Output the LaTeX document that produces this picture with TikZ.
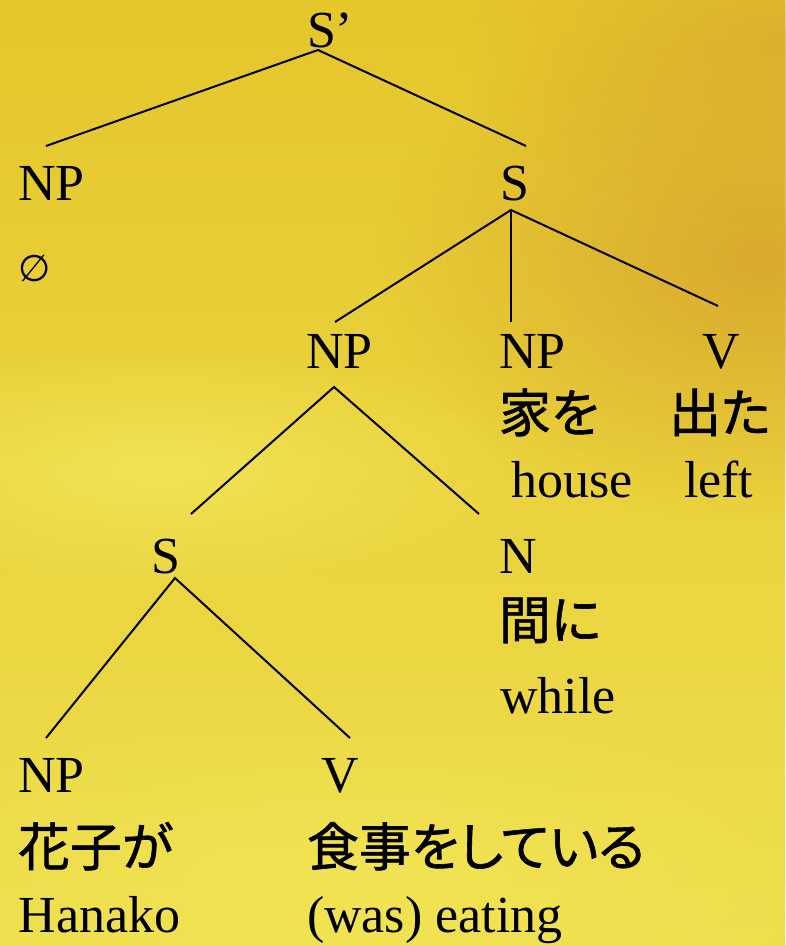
\documentclass[tikz,border=0pt]{standalone}
\usepackage{fontspec}
\setmainfont{Liberation Serif}
\newfontfamily\jp[FakeBold=1.2,RawFeature={+palt}]{Noto Sans CJK JP}
\newfontfamily\djv{DejaVu Sans}
\usetikzlibrary{fadings}
\tikzfading[name=softfade, inner color=transparent!0, outer color=transparent!100]
\definecolor{bgtop}{HTML}{E5C62C}
\definecolor{bgbot}{HTML}{EEDE4C}
\definecolor{gold}{HTML}{D6A42C}
\definecolor{lightyel}{HTML}{F4E85A}
\begin{document}
\begin{tikzpicture}[x=1pt,y=-1pt,
  lab/.style={inner sep=0pt,outer sep=0pt,anchor=base west,font=\fontsize{52}{60}\selectfont},
  jlab/.style={inner sep=0pt,outer sep=0pt,anchor=base west,font=\fontsize{52}{60}\selectfont\jp},
  edge/.style={line width=2pt,black}]
% background
\useasboundingbox (0,0) rectangle (785,945);
\shade[top color=bgtop,bottom color=bgbot] (0,0) rectangle (785,945);
\fill[gold,opacity=0.85,path fading=softfade] (760,260) ellipse (380 and 260);
\fill[gold,opacity=0.55,path fading=softfade] (780,40) ellipse (320 and 180);
\fill[lightyel,opacity=0.8,path fading=softfade] (160,470) ellipse (380 and 130);
\fill[lightyel,opacity=0.6,path fading=softfade] (350,880) ellipse (550 and 180);
% labels
\node[lab] (sp) at (307,47) {S’};
\node[lab] (np1) at (18,200) {NP};
\node[lab] (empty) at (18,281) {\djv\fontsize{37}{44}\selectfont ∅};
\node[lab] (s1) at (500,200) {S};
\node[lab] (np2) at (306,368) {NP};
\node[lab] (np3) at (499,368) {NP};
\node[lab] (v1) at (702,368) {V};
\node[jlab] (ie) at (499,432) {家を};
\node[jlab] (deta) at (669,432) {出た};
\node[lab] (house) at (511,497) {house};
\node[lab] (left) at (684,497) {left};
\node[lab] (s2) at (151,573) {S};
\node[lab] (n1) at (499,573) {N};
\node[jlab] (aida) at (499,639) {間に};
\node[lab] (while) at (500,713) {while};
\node[lab] (np4) at (18,792) {NP};
\node[lab] (v2) at (321,792) {V};
\node[jlab] (hanako-j) at (18,866) {花子が};
\node[jlab] (taberu) at (307,866) {食事をしている};
\node[lab] (hanako) at (19,932) {Hanako};
\node[lab] (eating) at (307,932) {(was) eating};
% junction points
\coordinate (sp-b) at (318,50);
\coordinate (np1-t) at (46,146);
\coordinate (s1-t) at (526,146);
\coordinate (s1-b) at (511,210);
\coordinate (np2-t) at (335,322);
\coordinate (np3-t) at (511,322);
\coordinate (v1-t) at (718,306);
\coordinate (np2-b) at (334,387);
\coordinate (s2-t) at (191,514);
\coordinate (n1-t) at (479,514);
\coordinate (s2-b) at (175,578);
\coordinate (np4-t) at (46,738);
\coordinate (v2-t) at (350,738);
% edges
\draw[edge] (np1-t) -- (sp-b) -- (s1-t);
\draw[edge] (np2-t) -- (s1-b) -- (v1-t);
\draw[edge] (s1-b) -- (np3-t);
\draw[edge] (s2-t) -- (np2-b) -- (n1-t);
\draw[edge] (np4-t) -- (s2-b) -- (v2-t);
\end{tikzpicture}
\end{document}
